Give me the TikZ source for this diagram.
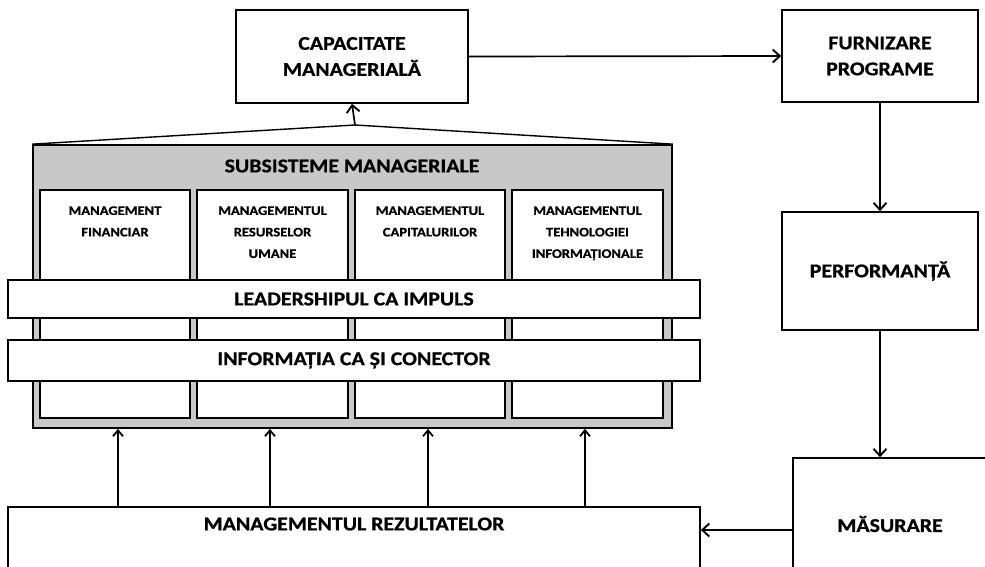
\documentclass[tikz,border=0pt]{standalone}
\usepackage{fontspec}
\setmainfont[FakeStretch=1.12,BoldFeatures={FakeBold=0.8}]{Carlito}
\usetikzlibrary{arrows.meta}
\definecolor{subgray}{RGB}{200,200,200}
\begin{document}
\begin{tikzpicture}[x=1pt,y=-1pt,
  box/.style={draw=black,line width=1.7pt,fill=white,inner sep=0pt},
  big/.style={font=\bfseries\fontsize{19.5}{26}\selectfont,align=center},
  small/.style={font=\bfseries\fontsize{13}{21.5}\selectfont,align=center,inner sep=0pt},
  flow/.style={line width=1.7pt,-{Straight Barb[length=7pt,width=13pt,line width=1.9pt]}},
  thin flow/.style={line width=1.2pt,-{Straight Barb[length=6pt,width=10pt,line width=1.8pt]}}]
\useasboundingbox (0,0) rectangle (985,566);
\clip (0,0) rectangle (985,566);

% top and right column
\node[box,minimum width=232pt,minimum height=93pt,big] (cap) at (352,56.5) {CAPACITATE\\MANAGERIALĂ};
\node[box,minimum width=196pt,minimum height=92pt,big] (furn) at (880,56) {FURNIZARE\\PROGRAME};
\node[box,minimum width=196pt,minimum height=118pt,big] (perf) at (880,271) {PERFORMANȚĂ};
\node[box,minimum width=210pt,minimum height=130pt] (mas) at (898,523) {};
\node[big] (mastext) at (890,524) {MĂSURARE};

% subsystems container
\node[box,fill=subgray,minimum width=639pt,minimum height=283pt] (sub) at (352.5,286.5) {};
\node[big] (subtitle) at (352,166) {SUBSISTEME MANAGERIALE};
\coordinate (apex) at (355,125);
\draw[line width=1.4pt] (sub.north west) -- (apex) -- (sub.north east);

\node[box,minimum width=150pt,minimum height=228pt] (s1) at (115,304) {};
\node[box,minimum width=151pt,minimum height=228pt] (s2) at (272.5,304) {};
\node[box,minimum width=150pt,minimum height=228pt] (s3) at (430,304) {};
\node[box,minimum width=151pt,minimum height=228pt] (s4) at (587.5,304) {};
\node[small,anchor=north] (t1) at ([yshift=-17pt]s1.north) {MANAGEMENT\\FINANCIAR};
\node[small,anchor=north] (t2) at ([yshift=-17pt]s2.north) {MANAGEMENTUL\\RESURSELOR\\UMANE};
\node[small,anchor=north] (t3) at ([yshift=-17pt]s3.north) {MANAGEMENTUL\\CAPITALURILOR};
\node[small,anchor=north] (t4) at ([yshift=-17pt]s4.north) {MANAGEMENTUL\\TEHNOLOGIEI\\INFORMAȚIONALE};

\node[box,minimum width=692pt,minimum height=38pt,big] (lead) at (354,299) {LEADERSHIPUL CA IMPULS};
\node[box,minimum width=692pt,minimum height=41pt,big] (info) at (354,360.5) {INFORMAȚIA CA ȘI CONECTOR};

% results box
\node[box,minimum width=692pt,minimum height=90pt] (rez) at (354,552) {};
\node[big] (reztext) at (354,524) {MANAGEMENTUL REZULTATELOR};

% connectors
\draw[flow] (apex) -- (cap.south);
\draw[flow] (cap.east) -- (furn.west);
\draw[flow] (furn.south) -- (perf.north);
\draw[flow] (perf.south) -- (perf.south |- mas.north);
\draw[flow] (mas.west |- 0,530) -- (rez.east |- 0,530);
\foreach \x [count=\i] in {118,270,428,585}{
  \coordinate (up\i) at (\x,0);
  \draw[thin flow] (up\i |- rez.north) -- (up\i |- sub.south);
}
\end{tikzpicture}
\end{document}
